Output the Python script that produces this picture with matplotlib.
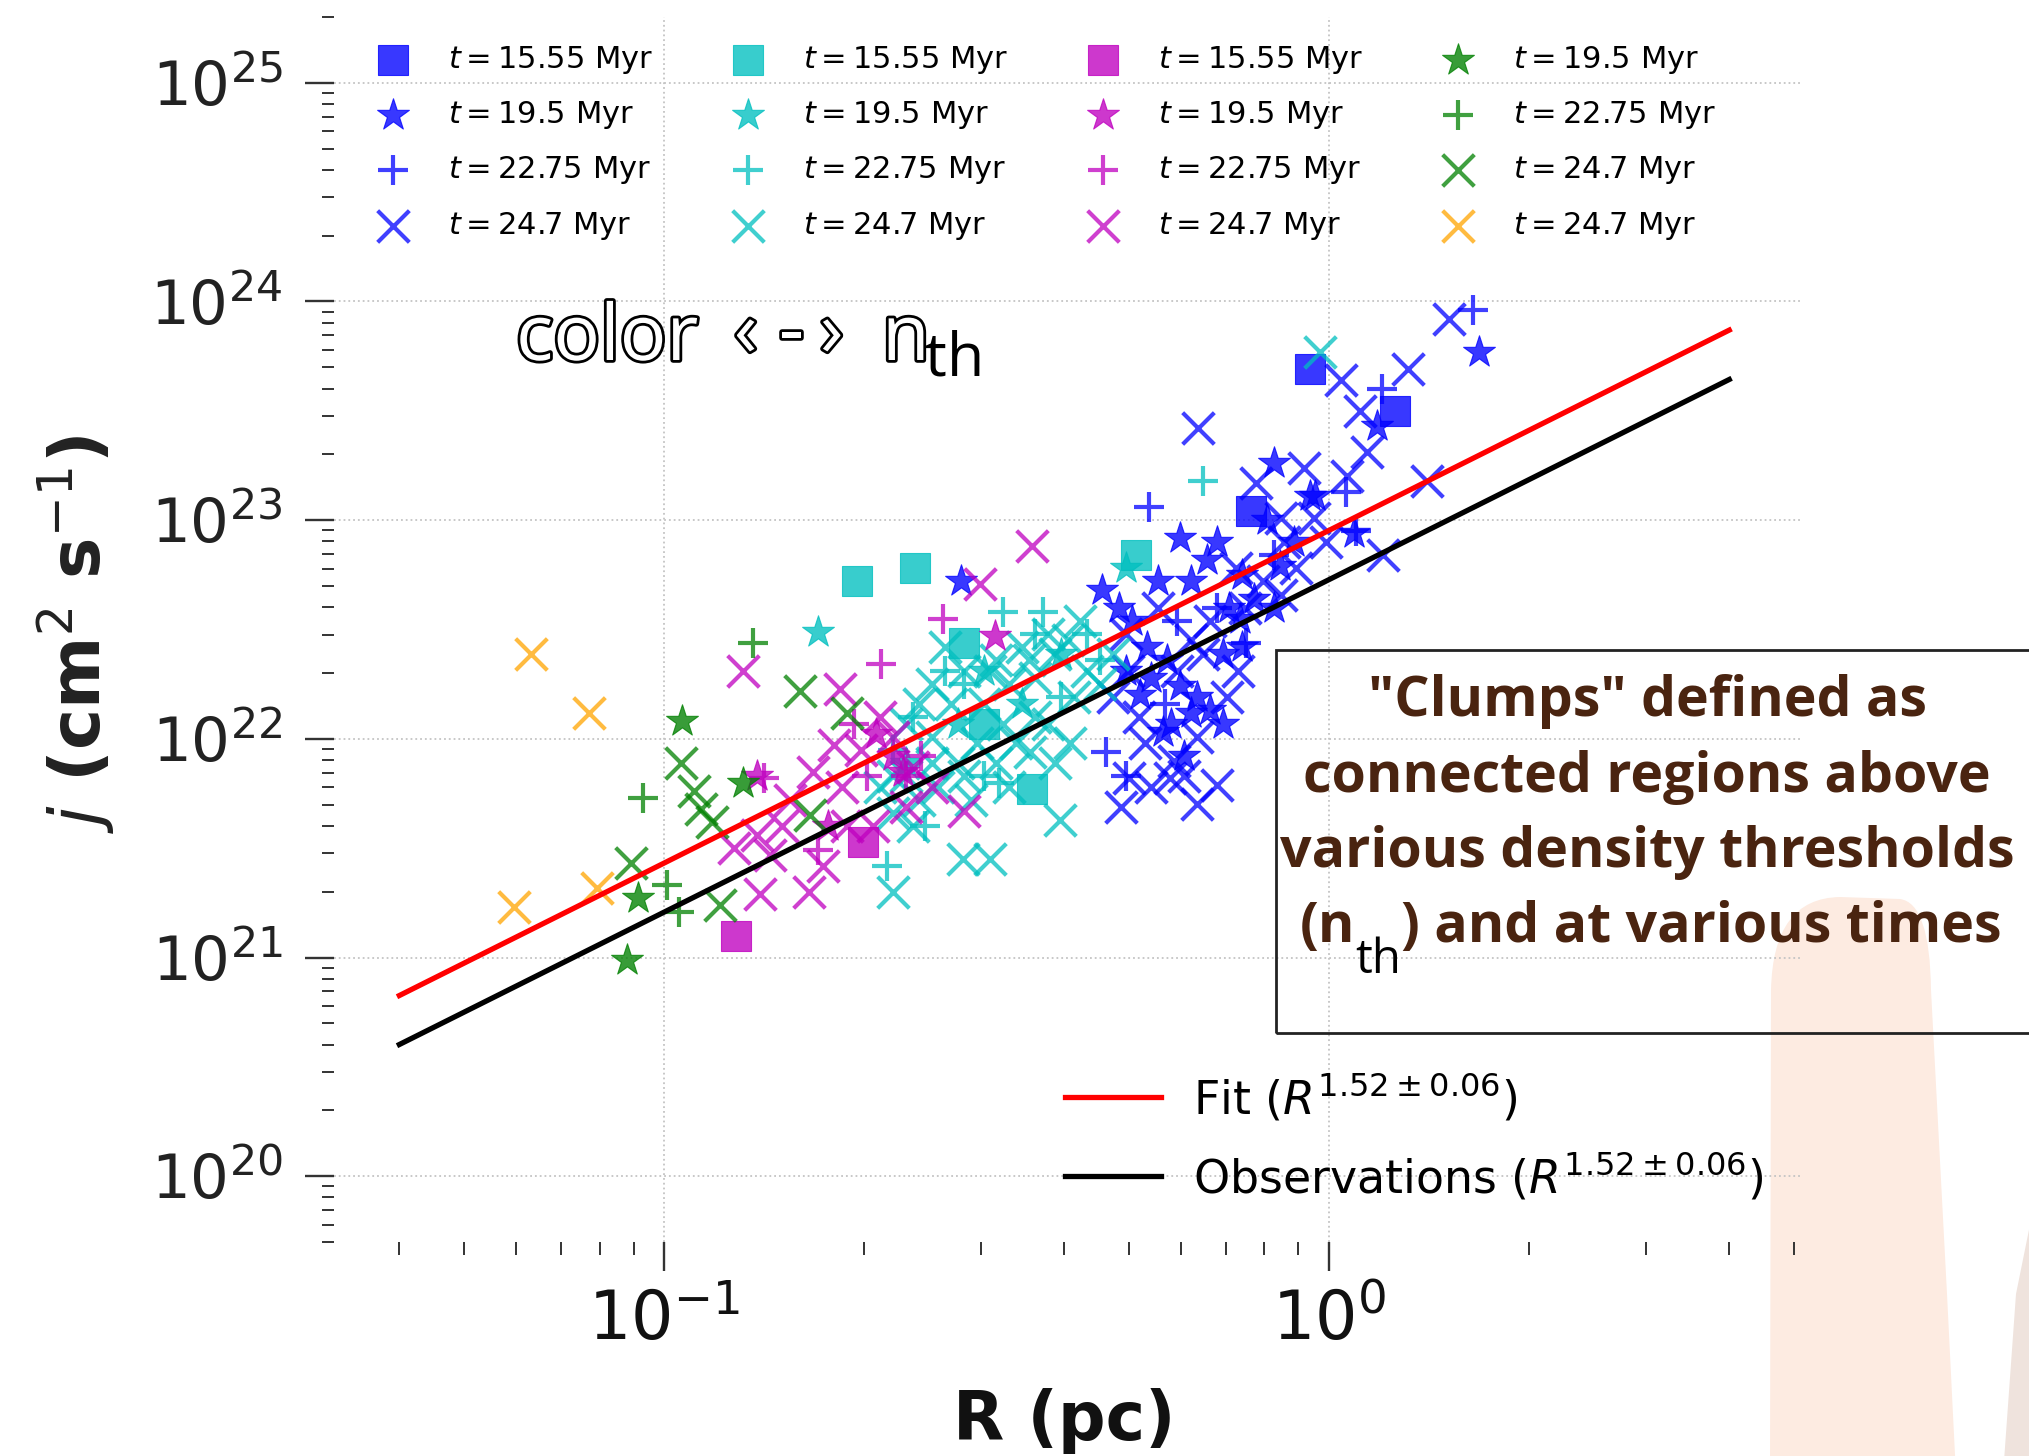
import matplotlib
matplotlib.use('Agg')
import matplotlib.pyplot as plt
import matplotlib.patheffects as pe
from matplotlib.ticker import LogLocator, NullFormatter
from matplotlib.patches import Rectangle, PathPatch
from matplotlib.path import Path
from matplotlib.transforms import IdentityTransform

# ---------------- data (log10 values) ----------------
# blue (highest n_th)
blue_sq_logR = [-0.029, 0.099, -0.117]
blue_sq_logj = [23.69, 23.50, 23.04]
blue_st_logR = [0.226, -0.082, -0.021, 0.037, 0.072, -0.554, -0.342, -0.224, -0.183, -0.093, -0.029, -0.074,
                -0.113, -0.134, -0.274, -0.224, -0.208, -0.249, -0.179, -0.284, -0.243, -0.315, -0.160, -0.130,
                -0.305, -0.267, -0.198, -0.237, -0.150, -0.082, -0.053, -0.169, -0.208, -0.130, -0.296,
                -0.257, -0.218, -0.160]
blue_st_logj = [23.77, 23.26, 23.11, 22.94, 23.43, 22.72, 22.68, 22.92, 22.82, 23.00, 23.11, 22.79,
                22.64, 22.55, 22.42, 22.24, 22.12, 22.03, 22.13, 22.20, 22.36, 22.60, 22.39, 22.75,
                22.31, 22.28, 22.19, 22.07, 22.60, 22.60, 22.90, 22.90, 22.72, 22.42, 22.54,
                22.72, 21.92, 22.07]
blue_pl_logR = [0.216, 0.080, -0.270, 0.025, 0.041, -0.125, -0.335, -0.305, -0.169, -0.082, -0.247, -0.228]
blue_pl_logj = [23.96, 23.60, 23.06, 23.13, 22.95, 22.44, 21.94, 21.83, 22.60, 22.84, 22.16, 22.54]
blue_x_logR = [0.181, 0.119, 0.018, 0.047, 0.058, 0.027, -0.197, -0.037, -0.109, 0.148, 0.082, -0.313,
               -0.300, -0.239, -0.198, -0.169, -0.233, -0.276, -0.228, -0.179, -0.126, -0.068, -0.302,
               -0.257, -0.099, -0.049, -0.154, -0.198, -0.286, -0.136, -0.023, -0.189, -0.072,
               -0.325, -0.267, -0.218, -0.004, -0.072, -0.140, -0.305, -0.208]
blue_x_logj = [23.92, 23.69, 23.64, 23.50, 23.31, 23.20, 23.42, 23.24, 23.17, 23.18, 22.84, 21.69,
               21.82, 21.82, 21.70, 21.79, 21.90, 21.98, 22.31, 22.54, 22.60, 22.90, 22.31,
               22.60, 22.72, 22.78, 22.19, 22.01, 22.10, 22.31, 23.01, 22.39, 22.66,
               22.19, 21.78, 21.83, 22.90, 23.01, 22.78, 22.48, 22.45]
# cyan
cyan_sq_logR = [-0.710, -0.623, -0.549, -0.519, -0.447, -0.290]
cyan_sq_logj = [22.72, 22.78, 22.44, 22.07, 21.77, 22.84]
cyan_st_logR = [-0.768, -0.519, -0.403, -0.636, -0.305, -0.558, -0.461]
cyan_st_logj = [22.49, 22.31, 22.39, 21.89, 22.78, 22.07, 22.16]
cyan_pl_logR = [-0.189, -0.490, -0.430, -0.665, -0.496, -0.578, -0.364, -0.519, -0.656, -0.403, -0.626, -0.344,
                -0.549, -0.442, -0.607]
cyan_pl_logj = [23.18, 22.58, 22.58, 21.42, 21.80, 22.31, 22.48, 21.83, 21.95, 22.19, 22.10, 22.36,
                22.25, 22.48, 21.60]
cyan_x_logR = [-0.014, -0.405, -0.551, -0.510, -0.389, -0.449, -0.656, -0.597, -0.549, -0.500, -0.461,
               -0.422, -0.374, -0.481, -0.442, -0.519, -0.597, -0.636, -0.588, -0.558, -0.539, -0.626,
               -0.656, -0.490, -0.442, -0.364, -0.325, -0.636, -0.578, -0.412, -0.675, -0.500,
               -0.617, -0.568, -0.529, -0.471, -0.422, -0.383, -0.344, -0.597, -0.656, -0.510,
               -0.451, -0.393, -0.549, -0.617, -0.481, -0.412]
cyan_x_logj = [23.77, 21.63, 21.45, 21.45, 21.98, 21.94, 21.30, 22.25, 22.31, 22.36, 22.42,
               22.48, 22.54, 22.25, 22.28, 22.16, 22.01, 21.83, 21.78, 21.89, 21.72, 21.60,
               21.66, 22.07, 22.10, 22.31, 22.39, 22.07, 22.42, 22.39, 21.78, 21.89,
               22.16, 22.16, 21.98, 21.98, 22.07, 22.19, 22.25, 21.89, 21.83, 22.31,
               22.36, 22.45, 21.83, 21.72, 21.78, 21.89]
# magenta
mag_sq_logR = [-0.700, -0.891]
mag_sq_logj = [21.53, 21.10]
mag_st_logR = [-0.502, -0.640, -0.681, -0.860, -0.753, -0.656]
mag_st_logj = [22.47, 21.85, 22.02, 21.83, 21.60, 21.92]
mag_pl_logR = [-0.580, -0.673, -0.850, -0.768, -0.714, -0.613, -0.695, -0.636]
mag_pl_logj = [22.55, 22.34, 21.82, 21.49, 22.07, 21.92, 21.83, 21.83]
mag_x_logR = [-0.447, -0.525, -0.735, -0.881, -0.856, -0.782, -0.761, -0.895, -0.860, -0.840, -0.745,
              -0.776, -0.724, -0.597, -0.549, -0.675, -0.636, -0.811,
              -0.704, -0.656, -0.626, -0.823, -0.733, -0.685]
mag_x_logj = [22.88, 22.71, 22.23, 22.31, 21.29, 21.30, 21.42, 21.50, 21.56, 21.47, 21.97,
              21.85, 21.60, 21.78, 21.67, 22.10, 21.69, 21.72,
              21.95, 22.01, 21.87, 21.60, 21.78, 21.60]
# green
green_st_logR = [-0.973, -0.881, -1.039, -1.056]
green_st_logj = [22.08, 21.80, 21.27, 20.99]
green_pl_logR = [-0.866, -1.031, -0.996, -0.977]
green_pl_logj = [22.44, 21.73, 21.33, 21.21]
green_x_logR = [-0.796, -0.724, -0.975, -0.955, -0.944, -0.928, -1.049, -0.916, -0.780]
green_x_logj = [22.22, 22.12, 21.89, 21.76, 21.68, 21.62, 21.43, 21.24, 21.65]
# orange (lowest n_th)
orange_x_logR = [-1.200, -1.113, -1.226, -1.101]
orange_x_logj = [22.39, 22.12, 21.23, 21.32]

time_labels = ["$t = 15.55$ Myr", "$t = 19.5$ Myr", "$t = 22.75$ Myr", "$t = 24.7$ Myr"]

fit_R = [0.04, 4.0]
fit_j = [6.7e20, 7.4e23]
obs_R = [0.04, 4.0]
obs_j = [4.0e20, 4.4e23]

x_limits = [0.0319, 5.11]
y_limits = [5e19, 2e25]

# ---------------- figure ----------------
W, H = 2029, 1456
fig = plt.figure(figsize=(W / 100, H / 100), dpi=100)
fig.patch.set_facecolor('white')

ax = fig.add_axes([334 / W, 1 - 1242 / H, (1800 - 334) / W, (1242 - 17) / H])
ax.set_facecolor('none')
ax.set_xscale('log')
ax.set_yscale('log')
ax.set_xlim(*x_limits)
ax.set_ylim(*y_limits)

groups = [
    (blue_sq_logR, blue_sq_logj, 'b', 's', 0), (blue_st_logR, blue_st_logj, 'b', '*', 1),
    (blue_pl_logR, blue_pl_logj, 'b', '+', 2), (blue_x_logR, blue_x_logj, 'b', 'x', 3),
    (cyan_sq_logR, cyan_sq_logj, 'c', 's', 0), (cyan_st_logR, cyan_st_logj, 'c', '*', 1),
    (cyan_pl_logR, cyan_pl_logj, 'c', '+', 2), (cyan_x_logR, cyan_x_logj, 'c', 'x', 3),
    (mag_sq_logR, mag_sq_logj, 'm', 's', 0), (mag_st_logR, mag_st_logj, 'm', '*', 1),
    (mag_pl_logR, mag_pl_logj, 'm', '+', 2), (mag_x_logR, mag_x_logj, 'm', 'x', 3),
    (green_st_logR, green_st_logj, 'g', '*', 1), (green_pl_logR, green_pl_logj, 'g', '+', 2),
    (green_x_logR, green_x_logj, 'g', 'x', 3), (orange_x_logR, orange_x_logj, 'orange', 'x', 3),
]
sizes = {'s': 480, '*': 580, '+': 450, 'x': 520}
handles, labels = [], []
for lr, lj, col, mk, ti in groups:
    R = [10 ** v for v in lr]
    J = [10 ** v for v in lj]
    if mk in ('x', '+'):
        h = ax.scatter(R, J, s=sizes[mk], marker=mk, color=col, alpha=0.75, linewidths=3.0, zorder=3)
    else:
        h = ax.scatter(R, J, s=sizes[mk], marker=mk, color=col, alpha=0.78, linewidths=0.8, zorder=3)
    handles.append(h)
    labels.append(time_labels[ti])

l_fit, = ax.plot(fit_R, fit_j, color='red', lw=3.8, zorder=4)
l_obs, = ax.plot(obs_R, obs_j, color='black', lw=3.8, zorder=4)

for s in ax.spines.values():
    s.set_visible(False)
ax.grid(True, which='major', linestyle=':', color='#c4c4c4', linewidth=1.3)
ax.xaxis.set_major_locator(LogLocator(base=10, numticks=20))
ax.xaxis.set_minor_locator(LogLocator(base=10, subs=range(2, 10), numticks=50))
ax.yaxis.set_major_locator(LogLocator(base=10, numticks=20))
ax.yaxis.set_minor_locator(LogLocator(base=10, subs=range(2, 10), numticks=50))
ax.xaxis.set_minor_formatter(NullFormatter())
ax.yaxis.set_minor_formatter(NullFormatter())
ax.tick_params(which='major', length=21, width=1.7, color='#333333', direction='out')
ax.tick_params(which='minor', length=9, width=1.4, color='#333333', direction='out')
ax.tick_params(axis='y', which='major', labelsize=44, pad=16, labelcolor='#222222')
ax.tick_params(axis='x', which='major', labelsize=48, pad=12, labelcolor='#111111')

leg1 = ax.legend(handles, labels, ncol=4, loc='upper left',
                 bbox_to_anchor=(362 / W, 1 - 44 / H), bbox_transform=fig.transFigure,
                 frameon=False, fontsize=22, handlelength=2.0, handletextpad=0.8,
                 columnspacing=2.1, labelspacing=0.76, borderpad=0, borderaxespad=0,
                 scatterpoints=1)
leg2 = ax.legend([l_fit, l_obs],
                 [r"Fit ($R^{1.52\pm0.06}$)", r"Observations ($R^{1.52\pm0.06}$)"],
                 loc='upper left', bbox_to_anchor=(1065 / W, 1 - 1071 / H),
                 bbox_transform=fig.transFigure, frameon=False, fontsize=33,
                 handlelength=2.1, handletextpad=0.7, labelspacing=0.6,
                 borderpad=0, borderaxespad=0)
ax.add_artist(leg1)

fig.text(76 / W, 1 - 634 / H, r"$j$ (cm$^2$ s$^{-1}$)", rotation=90, ha='center', va='center',
         fontsize=50, fontweight='bold', color='#222222')
fig.text(1064 / W, 1 - 1440 / H, "R (pc)", ha='center', va='baseline',
         fontsize=48, fontweight='bold', color='#111111')

# ---------------- decorations ----------------
def px(x, y):
    return (x, H - y)

verts = [px(1770, 1475), px(1771, 990), px(1773, 898), px(1840, 897), px(1900, 899),
         px(1930, 903), px(1931, 990), px(1947, 1294), px(1956, 1475), px(1770, 1475)]
codes = [Path.MOVETO, Path.LINETO, Path.CURVE3, Path.CURVE3, Path.LINETO,
         Path.CURVE3, Path.CURVE3, Path.LINETO, Path.LINETO, Path.CLOSEPOLY]
blob = PathPatch(Path(verts, codes), facecolor='#FDEBE1', edgecolor='none',
                 transform=IdentityTransform(), zorder=-1)
fig.add_artist(blob)
verts2 = [px(2035, 1200), px(2016, 1294), px(2003, 1475), px(2035, 1475), px(2035, 1200)]
codes2 = [Path.MOVETO, Path.LINETO, Path.LINETO, Path.LINETO, Path.CLOSEPOLY]
fig.add_artist(PathPatch(Path(verts2, codes2), facecolor='#EFE3DD', edgecolor='none',
                         transform=IdentityTransform(), zorder=-1))

box = Rectangle((1276 / W, 1 - 1033 / H), 1.02 - 1276 / W, (1033 - 650) / H,
                transform=fig.transFigure, fill=False, edgecolor='#222222', linewidth=2.0, zorder=5)
fig.add_artist(box)

brown = '#4a2410'
bfont = dict(family=['Open Sans', 'DejaVu Sans'], fontweight='bold', fontsize=40, color=brown, zorder=6)
cx = 1647 / W
fig.text(cx, 1 - 716 / H, '"Clumps" defined as', ha='center', va='baseline', **bfont)
fig.text(cx, 1 - 792 / H, 'connected regions above', ha='center', va='baseline', **bfont)
fig.text(cx, 1 - 867 / H, 'various density thresholds', ha='center', va='baseline', **bfont)

fig.canvas.draw()
rend = fig.canvas.get_renderer()
t1 = fig.text(1300 / W, 1 - 942 / H, '(n', ha='left', va='baseline', **bfont)
bb1 = t1.get_window_extent(rend)
t2 = fig.text(bb1.x1 / W, 1 - 973 / H, 'th', ha='left', va='baseline',
              family=['Open Sans', 'DejaVu Sans'], fontsize=34, color='black', zorder=6)
bb2 = t2.get_window_extent(rend)
fig.text(bb2.x1 / W, 1 - 942 / H, ') and at various times', ha='left', va='baseline', **bfont)

# hand-drawn style label "color <-> n_th"
outline = [pe.withStroke(linewidth=4, foreground='black')]
hfont = dict(family=['Open Sans', 'DejaVu Sans'], fontsize=56, color='white', va='baseline',
             ha='left', path_effects=outline, zorder=6)
fig.text(516 / W, 1 - 360 / H, 'color', **hfont)
fig.text(734 / W, 1 - 356 / H, '\u2039', **hfont)
fig.text(779 / W, 1 - 356 / H, '-', **hfont)
fig.text(820 / W, 1 - 356 / H, '\u203a', **hfont)
fig.text(882 / W, 1 - 360 / H, 'n', **hfont)
fig.text(925 / W, 1 - 375 / H, 'th', family=['Open Sans', 'DejaVu Sans'], fontsize=44,
         color='black', va='baseline', ha='left', zorder=6)

fig.savefig('out.png', dpi=100, facecolor='white')
